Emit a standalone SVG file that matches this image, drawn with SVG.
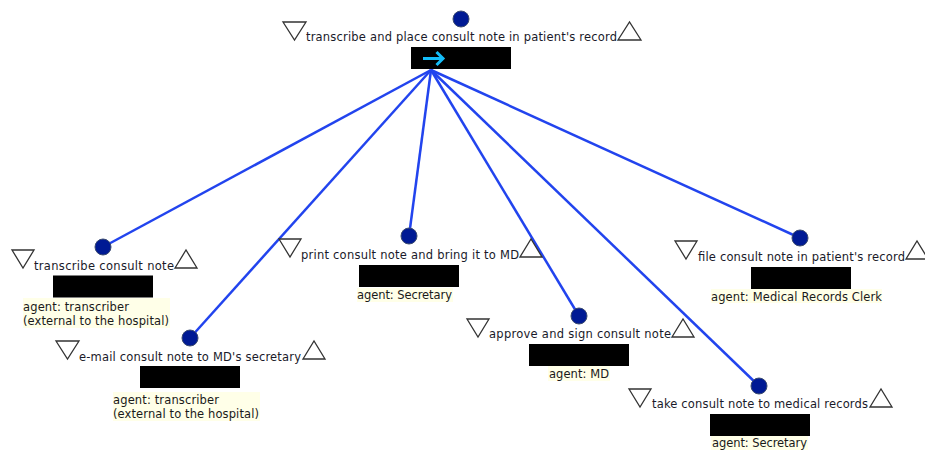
<svg xmlns="http://www.w3.org/2000/svg" width="925" height="452" viewBox="0 0 925 452">
<style>
.t{font-family:"DejaVu Sans","Liberation Sans",sans-serif;font-size:11.5px;fill:#1a1a2a}
.a{font-family:"DejaVu Sans","Liberation Sans",sans-serif;font-size:11.5px;fill:#1a1a1a}
.c{fill:#001a94;stroke:#3a4a70;stroke-width:1}
.tri{fill:#fff;stroke:#333;stroke-width:1.3}
.b{fill:#000}
.bg{fill:#ffffe8}
.e{stroke:#2244ee;stroke-width:2.5;fill:none}
</style>
<rect width="925" height="452" fill="#fff"/>
<g id="connectors">
<line class="e" x1="431" y1="70" x2="103" y2="247"/>
<line class="e" x1="431" y1="70" x2="190" y2="338"/>
<line class="e" x1="431" y1="70" x2="409" y2="236"/>
<line class="e" x1="431" y1="70" x2="579" y2="316"/>
<line class="e" x1="431" y1="70" x2="759" y2="386"/>
<line class="e" x1="431" y1="70" x2="800" y2="238"/>
</g>
<g id="root">
<circle class="c" cx="461" cy="19" r="8"/>
<polygon class="tri" points="283,22 306,22 294.500,40"/>
<text class="t" x="306" y="41" textLength="311">transcribe and place consult note in patient's record</text>
<polygon class="tri" points="618,40 641,40 629.500,22"/>
<rect class="b" x="411" y="47" width="100" height="22"/>
<path d="M423 58.500H443M436.500 52L443 58.500L436.500 65" fill="none" stroke="#14bdfa" stroke-width="3"/>
</g>
<g id="n1">
<circle class="c" cx="103" cy="247" r="8"/>
<polygon class="tri" points="12,250 34,250 23,268"/>
<text class="t" x="34" y="270" textLength="140">transcribe consult note</text>
<polygon class="tri" points="175,268 197,268 186,250"/>
<rect class="b" x="53" y="275.500" width="100" height="22"/>
<rect class="bg" x="23" y="298" width="147" height="30"/>
<text class="a" x="23" y="310.500" textLength="106">agent: transcriber</text>
<text class="a" x="23" y="324.500" textLength="146">(external to the hospital)</text>
</g>
<g id="n2">
<circle class="c" cx="190" cy="338" r="8"/>
<polygon class="tri" points="56,341 79,341 67.500,359"/>
<text class="t" x="79" y="361" textLength="222">e-mail consult note to MD's secretary</text>
<polygon class="tri" points="303,359 325,359 314,341"/>
<rect class="b" x="140" y="366" width="100" height="22"/>
<rect class="bg" x="113" y="392" width="147" height="29"/>
<text class="a" x="113" y="403.500" textLength="106">agent: transcriber</text>
<text class="a" x="113" y="417.500" textLength="146">(external to the hospital)</text>
</g>
<g id="n3">
<circle class="c" cx="409" cy="236" r="8"/>
<polygon class="tri" points="279,239 301,239 290,257"/>
<text class="t" x="301" y="259" textLength="218">print consult note and bring it to MD</text>
<polygon class="tri" points="520,257 542,257 531,239"/>
<rect class="b" x="359" y="265" width="100" height="22"/>
<rect class="bg" x="357" y="288" width="96" height="14"/>
<text class="a" x="357" y="299" textLength="95">agent: Secretary</text>
</g>
<g id="n4">
<circle class="c" cx="579" cy="316" r="8"/>
<polygon class="tri" points="467,319 489,319 478,337"/>
<text class="t" x="489" y="338" textLength="182">approve and sign consult note</text>
<polygon class="tri" points="672,337 694,337 683,319"/>
<rect class="b" x="529" y="344" width="100" height="22"/>
<rect class="bg" x="548" y="366" width="62" height="15"/>
<text class="a" x="549" y="378" textLength="60">agent: MD</text>
</g>
<g id="n5">
<circle class="c" cx="759" cy="386" r="8"/>
<polygon class="tri" points="629,389 651,389 640,407"/>
<text class="t" x="652" y="408" textLength="216">take consult note to medical records</text>
<polygon class="tri" points="870,407 892,407 881,389"/>
<rect class="b" x="710" y="414" width="100" height="22"/>
<rect class="bg" x="711" y="436" width="97" height="14"/>
<text class="a" x="712" y="447" textLength="95">agent: Secretary</text>
</g>
<g id="n6">
<circle class="c" cx="800" cy="238" r="8"/>
<polygon class="tri" points="675,241 697,241 686,259"/>
<text class="t" x="698" y="261" textLength="207">file consult note in patient's record</text>
<polygon class="tri" points="906,259 928,259 917,241"/>
<rect class="b" x="751" y="267" width="100" height="22"/>
<rect class="bg" x="711" y="289" width="171" height="14"/>
<text class="a" x="711" y="301" textLength="171">agent: Medical Records Clerk</text>
</g>
</svg>
